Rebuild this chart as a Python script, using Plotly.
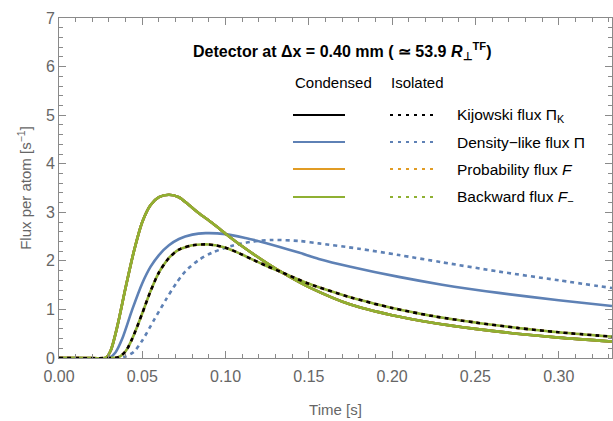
import plotly.graph_objects as go

# ---- data ----
t_cond = [0.0, 0.020, 0.028, 0.031, 0.035, 0.040, 0.045, 0.050, 0.055, 0.060, 0.066,
          0.072, 0.078, 0.084, 0.092, 0.100, 0.110, 0.125, 0.137, 0.150, 0.175, 0.200, 0.225,
          0.250, 0.275, 0.300, 0.332]
kij_cond = [0.0, 0.0, 0.0, 0.15, 0.65, 1.45, 2.20, 2.80, 3.15, 3.31, 3.36,
            3.31, 3.15, 2.98, 2.78, 2.56, 2.30, 1.95, 1.70, 1.46, 1.10, 0.88, 0.72,
            0.60, 0.50, 0.42, 0.34]

t_iso = [0.0, 0.030, 0.036, 0.040, 0.044, 0.050, 0.055, 0.060, 0.066, 0.072, 0.080, 0.088,
         0.094, 0.100, 0.108, 0.116, 0.125, 0.134, 0.150, 0.175, 0.200, 0.225, 0.250, 0.275,
         0.300, 0.332]
kij_iso = [0.0, 0.0, 0.02, 0.14, 0.40, 0.92, 1.38, 1.76, 2.06, 2.23, 2.32, 2.34,
           2.32, 2.27, 2.16, 2.03, 1.89, 1.76, 1.53, 1.25, 1.03, 0.86, 0.73, 0.62,
           0.53, 0.44]

t_dens_c = [0.0, 0.030, 0.034, 0.038, 0.044, 0.050, 0.055, 0.060, 0.066, 0.072, 0.080, 0.088,
            0.100, 0.112, 0.124, 0.144, 0.156, 0.175, 0.204, 0.230, 0.264, 0.300, 0.332]
dens_cond = [0.0, 0.0, 0.12, 0.40, 1.00, 1.54, 1.88, 2.12, 2.32, 2.45, 2.54, 2.57,
             2.55, 2.47, 2.37, 2.17, 2.04, 1.88, 1.67, 1.51, 1.34, 1.19, 1.07]

t_dens_i = [0.0, 0.036, 0.040, 0.045, 0.050, 0.057, 0.064, 0.070, 0.076, 0.084, 0.092, 0.104,
            0.115, 0.128, 0.144, 0.156, 0.180, 0.204, 0.230, 0.264, 0.300, 0.332]
dens_iso = [0.0, 0.0, 0.03, 0.13, 0.36, 0.78, 1.19, 1.52, 1.79, 2.02, 2.17, 2.31,
            2.39, 2.43, 2.41, 2.36, 2.25, 2.12, 1.97, 1.78, 1.60, 1.44]

# Probability and backward fluxes coincide with the Kijowski flux within line width
prob_cond = kij_cond
back_cond = kij_cond
prob_iso = kij_iso
back_iso = kij_iso

legend_labels = ["Kijowski flux Π<sub>K</sub>", "Density−like flux Π",
                 "Probability flux <i>F</i>", "Backward flux <i>F</i><sub>−</sub>"]

BLACK = "#000000"
BLUE = "#5E81B5"
ORANGE = "#E19C24"
GREEN = "#8FB032"
colors = [BLACK, BLUE, ORANGE, GREEN]

fig = go.Figure()

def add(x, y, color, dash, width=2.6):
    fig.add_trace(go.Scatter(x=x, y=y, mode="lines", line=dict(color=color, width=width, dash=dash,
                                                              shape="spline", smoothing=0.8),
                             showlegend=False, hoverinfo="skip"))

# draw order
add(t_dens_c, dens_cond, BLUE, "solid")
add(t_dens_i, dens_iso, BLUE, "4px,4px")
add(t_cond, kij_cond, BLACK, "solid")
add(t_cond, prob_cond, ORANGE, "solid")
add(t_cond, back_cond, GREEN, "solid")
add(t_iso, prob_iso, ORANGE, "4px,4px")
add(t_iso, back_iso, GREEN, "0px,4px,4px,0px")
add(t_iso, kij_iso, BLACK, "4px,4px")

FONT = "Liberation Sans, Arial, sans-serif"
GRAY = "#666666"
FRAME = "#8a8a8a"

annotations = []
shapes = []

def px_x(px):
    return (px - 59) / (612 - 59)

def px_y(py):
    return (358 - py) / (358 - 18)

# title
annotations.append(dict(xref="paper", yref="paper", x=px_x(342), y=px_y(51),
                        text="<b>Detector at Δx = 0.40 mm ( ≃ 53.9 <i>R</i><sub>⊥</sub><sup>TF</sup>)</b>",
                        showarrow=False, font=dict(family=FONT, size=16, color="black"),
                        xanchor="center", yanchor="middle"))

annotations.append(dict(xref="paper", yref="paper", x=px_x(293), y=px_y(82), text="Condensed",
                        showarrow=False, xanchor="left", yanchor="middle",
                        font=dict(family=FONT, size=15, color="black")))
annotations.append(dict(xref="paper", yref="paper", x=px_x(389), y=px_y(82), text="Isolated",
                        showarrow=False, xanchor="left", yanchor="middle",
                        font=dict(family=FONT, size=15, color="black")))

rows = [115, 142, 169, 197]
for lab, col, ry in zip(legend_labels, colors, rows):
    shapes.append(dict(type="line", xref="paper", yref="paper", x0=px_x(293), x1=px_x(345),
                       y0=px_y(ry), y1=px_y(ry), line=dict(color=col, width=2)))
    shapes.append(dict(type="line", xref="paper", yref="paper", x0=px_x(390), x1=px_x(438),
                       y0=px_y(ry), y1=px_y(ry), line=dict(color=col, width=2, dash="3px,5px")))
    annotations.append(dict(xref="paper", yref="paper", x=px_x(455), y=px_y(ry), text=lab,
                            showarrow=False, xanchor="left", yanchor="middle",
                            font=dict(family=FONT, size=15.5, color="black")))

fig.update_layout(
    width=613, height=421,
    margin=dict(l=59, r=1, t=18, b=63),
    paper_bgcolor="white", plot_bgcolor="white",
    annotations=annotations, shapes=shapes,
    showlegend=False,
    font=dict(family=FONT),
)
fig.update_xaxes(range=[0, 0.332], tickvals=[0, 0.05, 0.10, 0.15, 0.20, 0.25, 0.30],
                 ticktext=["0.00", "0.05", "0.10", "0.15", "0.20", "0.25", "0.30"],
                 ticks="inside", ticklen=7, tickcolor=FRAME, mirror="allticks",
                 showline=True, linecolor=FRAME, linewidth=1, showgrid=False, zeroline=False,
                 tickfont=dict(family=FONT, size=16, color=GRAY), ticklabelstandoff=4,
                 minor=dict(ticks="inside", dtick=0.01, tick0=0, ticklen=4, tickcolor=FRAME),
                 title=dict(text="Time [s]", font=dict(family=FONT, size=15, color=GRAY), standoff=20))
fig.update_yaxes(range=[0, 7], dtick=1, tick0=0,
                 ticks="inside", ticklen=7, tickcolor=FRAME, mirror="allticks",
                 showline=True, linecolor=FRAME, linewidth=1, showgrid=False, zeroline=False,
                 tickfont=dict(family=FONT, size=16, color=GRAY),
                 minor=dict(ticks="inside", dtick=0.2, tick0=0, ticklen=4, tickcolor=FRAME),
                 title=dict(text="Flux per atom [s<sup>−1</sup>]", font=dict(family=FONT, size=15, color=GRAY),
                            standoff=10))

fig.write_html("out.html")
